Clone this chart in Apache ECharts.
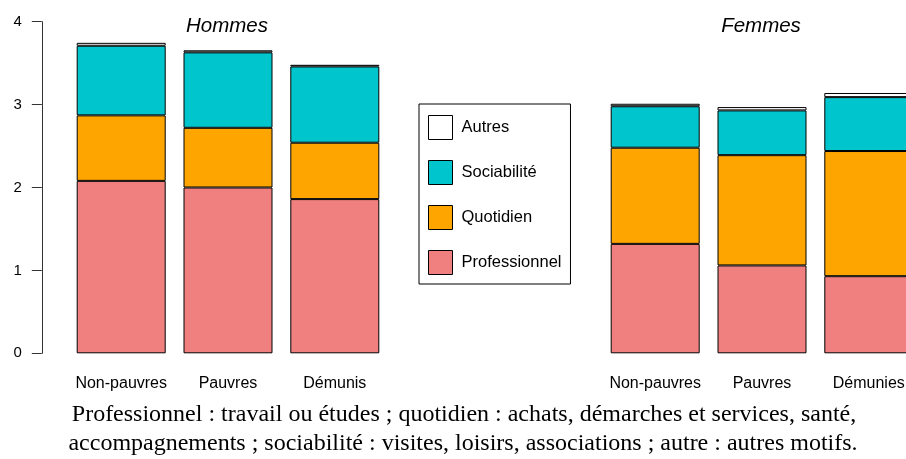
<!DOCTYPE html>
<html>
<head>
<meta charset="utf-8">
<script src="https://cdn.jsdelivr.net/npm/echarts@6/dist/echarts.min.js"></script>
<style>
  html, body { margin: 0; padding: 0; background: #fff; }
  #main { width: 906px; height: 459px; }
</style>
</head>
<body>
<div id="main"></div>
<script>
// categories: 3 hommes, 2 empty slots (legend), 3 femmes
const categories = ["Non-pauvres", "Pauvres", "Démunis", "", "", "Non-pauvres", "Pauvres", "Démunies"];
const professionnel = [2.08, 2.00, 1.86, null, null, 1.32, 1.06, 0.93];
const quotidien     = [0.79, 0.72, 0.68, null, null, 1.16, 1.33, 1.51];
const sociabilite   = [0.84, 0.91, 0.92, null, null, 0.50, 0.54, 0.65];
const autres        = [0.035, 0.025, 0.02, null, null, 0.03, 0.04, 0.05];
const yTicks = [0, 1, 2, 3, 4];

const sans = "Liberation Sans";
const serif = "Liberation Serif";

const myChart = echarts.init(document.getElementById("main"));

function bar(name, data, color) {
  return {
    name: name,
    type: "bar",
    stack: "total",
    data: data,
    barWidth: 89,
    itemStyle: { color: color, borderColor: "#000", borderWidth: 1 },
    emphasis: { disabled: true },
  };
}

const options = {
  animation: false,
  title: [
    {
      text: "Hommes", left: 227, top: 16, textAlign: "center", padding: 0,
      textStyle: { fontFamily: sans, fontStyle: "italic", fontWeight: "normal", fontSize: 20.5, color: "#000" },
    },
    {
      text: "Femmes", left: 761, top: 16, textAlign: "center", padding: 0,
      textStyle: { fontFamily: sans, fontStyle: "italic", fontWeight: "normal", fontSize: 20.5, color: "#000" },
    },
    {
      text: "Professionnel : travail ou études ; quotidien : achats, démarches et services, santé,",
      left: 464, top: 403, textAlign: "center", padding: 0,
      textStyle: { fontFamily: serif, fontWeight: "normal", fontSize: 24, color: "#000" },
    },
    {
      text: "accompagnements ; sociabilité : visites, loisirs, associations ; autre : autres motifs.",
      left: 463, top: 432, textAlign: "center", padding: 0,
      textStyle: { fontFamily: serif, fontWeight: "normal", fontSize: 24, color: "#000" },
    },
  ],
  legend: {
    orient: "vertical",
    left: 419,
    top: 104,
    data: ["Autres", "Sociabilité", "Quotidien", "Professionnel"],
    icon: "rect",
    itemWidth: 24,
    itemHeight: 24,
    itemGap: 20,
    padding: [11, 9, 9, 9],
    borderColor: "#000",
    borderWidth: 1,
    selectedMode: false,
    itemStyle: { borderColor: "#000", borderWidth: 1 },
    textStyle: { fontFamily: sans, fontSize: 16.5, color: "#000", padding: [0, 0, 0, 4] },
  },
  grid: {
    left: 67.8,
    right: -16.2,
    top: 21.7,
    bottom: 105.7,
    outerBoundsMode: "none",
  },
  xAxis: {
    type: "category",
    data: categories,
    axisLine: { show: false },
    axisTick: { show: false },
    axisLabel: {
      interval: 0,
      margin: 22,
      fontFamily: sans,
      fontSize: 16,
      color: "#000",
    },
  },
  yAxis: {
    type: "value",
    min: yTicks[0],
    max: yTicks[yTicks.length - 1],
    interval: 1,
    offset: 26,
    axisLine: { show: true, lineStyle: { color: "#333", width: 1 } },
    axisTick: { show: true, length: 10, lineStyle: { color: "#333" } },
    axisLabel: { margin: 20, fontFamily: sans, fontSize: 15, color: "#000" },
    splitLine: { show: false },
  },
  series: [
    bar("Professionnel", professionnel, "#F08080"),
    bar("Quotidien", quotidien, "#FFA500"),
    bar("Sociabilité", sociabilite, "#00C5CD"),
    bar("Autres", autres, "#FFFFFF"),
  ],
};

myChart.setOption(options);
</script>
</body>
</html>
